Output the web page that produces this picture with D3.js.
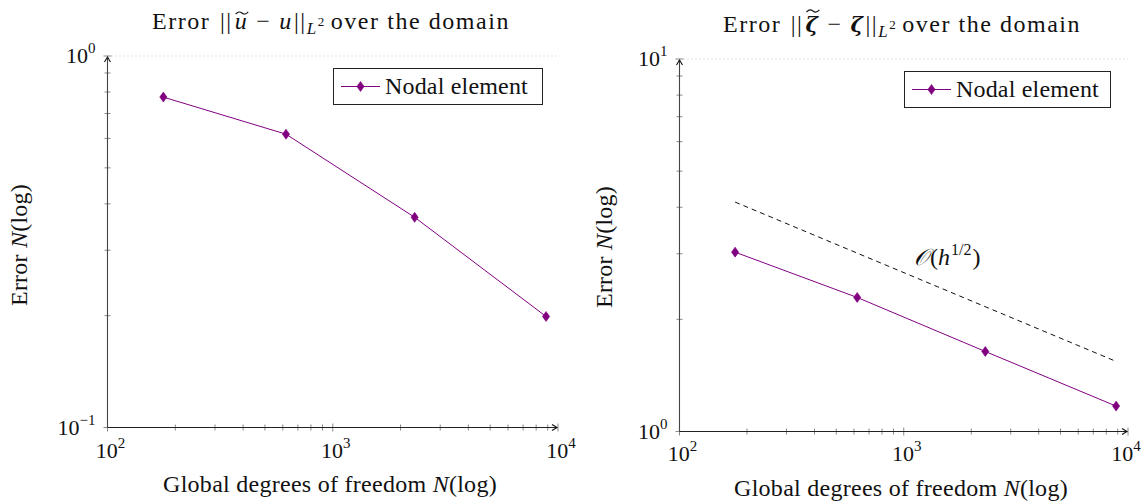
<!DOCTYPE html>
<html>
<head>
<meta charset="utf-8">
<script src="https://cdn.jsdelivr.net/npm/d3@7/dist/d3.min.js"></script>
<style>
  html, body { margin: 0; padding: 0; background: #fff; }
  svg { display: block; }
  text { font-family: "Liberation Serif", "DejaVu Serif", serif; fill: #111; }
</style>
</head>
<body>
<svg id="chart" width="1145" height="501"></svg>
<script>
// ---------------- data ----------------
const dofs = [177, 620, 2310, 8850];                 // global degrees of freedom N
const errorU = [0.775, 0.616, 0.368, 0.199];         // ||u~ - u||_L2
const errorZeta = [3.03, 2.29, 1.64, 1.17];          // ||zeta~ - zeta||_L2
const refDofs = [177, 8900];                          // O(h^{1/2}) reference line
const refZeta = [4.13, 1.54];
const seriesName = "Nodal element";
const xTickExponents = [2, 3, 4];
const leftYExponents = [-1, 0];
const rightYExponents = [0, 1];

const purple = "#800080";
const svg = d3.select("#chart");

function addPow(sel, base, exp) {
  sel.append("tspan").text(base);
  sel.append("tspan").attr("dy", -10).attr("font-size", "15px").text(exp);
}

// spread a text to a given width with letter-spacing (TeX fonts are wider)
function fit(sel, target) {
  const node = sel.node();
  sel.attr("letter-spacing", 0);
  const w = node.getComputedTextLength();
  const n = node.textContent.length;
  const ls = Math.max(-0.8, (target - w) / Math.max(1, n));
  sel.attr("letter-spacing", ls.toFixed(2) + "px");
}

// wide tilde accent over a character of a text element
function accent(g, textSel, idx, lift) {
  const node = textSel.node();
  const ext = node.getExtentOfChar(idx);
  const p = node.getStartPositionOfChar(idx);
  const a = ext.x + 1, w = Math.max(11, ext.width - 1), b = p.y - lift;
  g.append("path")
    .attr("d", `M${a},${b + 1.2} Q${a + w / 4},${b - 2.6} ${a + w / 2},${b} Q${a + 3 * w / 4},${b + 2.6} ${a + w},${b - 1.2}`)
    .attr("fill", "none").attr("stroke", "#111").attr("stroke-width", 1.1);
}

function drawPanel(cfg) {
  const g = svg.append("g");
  const x = d3.scaleLog().domain(cfg.xDomain).range([cfg.x0, cfg.x1]);
  const y = d3.scaleLog().domain(cfg.yDomain).range([cfg.y1, cfg.y0]);

  // dotted major y grid
  cfg.yExps.forEach(e => {
    g.append("line")
      .attr("x1", cfg.x0).attr("x2", cfg.x1)
      .attr("y1", y(Math.pow(10, e))).attr("y2", y(Math.pow(10, e)))
      .attr("stroke", "#c8c8c8").attr("stroke-width", 1)
      .attr("stroke-dasharray", "1,3");
  });

  // ticks (major + minor), crossing axis
  x.ticks().forEach(t => {
    const major = Math.abs(Math.log10(t) - Math.round(Math.log10(t))) < 1e-9;
    const len = major ? 4 : 3;
    g.append("line")
      .attr("x1", x(t)).attr("x2", x(t))
      .attr("y1", cfg.y1 - len).attr("y2", cfg.y1 + len)
      .attr("stroke", "#8a8a8a").attr("stroke-width", 1);
  });
  y.ticks().forEach(t => {
    const major = Math.abs(Math.log10(t) - Math.round(Math.log10(t))) < 1e-9;
    const len = major ? 4 : 3;
    g.append("line")
      .attr("y1", y(t)).attr("y2", y(t))
      .attr("x1", cfg.x0 - len).attr("x2", cfg.x0 + len)
      .attr("stroke", "#8a8a8a").attr("stroke-width", 1);
  });

  // axis lines with arrows
  g.append("line").attr("x1", cfg.x0).attr("x2", cfg.x1 - 1)
    .attr("y1", cfg.y1).attr("y2", cfg.y1)
    .attr("stroke", "#222").attr("stroke-width", 1.1);
  g.append("line").attr("x1", cfg.x0).attr("x2", cfg.x0)
    .attr("y1", cfg.y1).attr("y2", cfg.y0 + 1)
    .attr("stroke", "#444").attr("stroke-width", 1.1);
  g.append("path")
    .attr("d", `M${cfg.x1 - 6},${cfg.y1 - 3} L${cfg.x1 - 1},${cfg.y1} L${cfg.x1 - 6},${cfg.y1 + 3}`)
    .attr("fill", "none").attr("stroke", "#111").attr("stroke-width", 1.1);
  g.append("path")
    .attr("d", `M${cfg.x0 - 3},${cfg.y0 + 6} L${cfg.x0},${cfg.y0 + 1} L${cfg.x0 + 3},${cfg.y0 + 6}`)
    .attr("fill", "none").attr("stroke", "#111").attr("stroke-width", 1.1);

  // x tick labels
  xTickExponents.forEach((e, i) => {
    const last = i === xTickExponents.length - 1;
    const t = g.append("text")
      .attr("x", x(Math.pow(10, e)) + (last ? cfg.lastTickShift : 3)).attr("y", cfg.xLabelY)
      .attr("text-anchor", "middle").attr("font-size", "22px");
    addPow(t, "10", String(e));
  });
  // y tick labels
  cfg.yExps.forEach(e => {
    const t = g.append("text")
      .attr("x", cfg.x0 - 12).attr("y", y(Math.pow(10, e)) + 7)
      .attr("text-anchor", "end").attr("font-size", "22px");
    addPow(t, "10", e < 0 ? "\u2212" + Math.abs(e) : String(e));
  });

  // axis titles
  const xt = g.append("text")
    .attr("x", cfg.xTitleX).attr("y", cfg.xTitleY)
    .attr("text-anchor", "middle").attr("font-size", "24px");
  xt.append("tspan").text("Global degrees of freedom ");
  xt.append("tspan").attr("font-style", "italic").text("N");
  xt.append("tspan").text("(log)");
  fit(xt, 334);

  const yt = g.append("text")
    .attr("transform", `translate(${cfg.yTitleX},${cfg.yTitleY}) rotate(-90)`)
    .attr("text-anchor", "middle").attr("font-size", "24px");
  yt.append("tspan").text("Error ");
  yt.append("tspan").attr("font-style", "italic").text("N");
  yt.append("tspan").text("(log)");
  fit(yt, 122);

  // title
  const tt = g.append("text")
    .attr("x", cfg.titleX).attr("y", cfg.titleY)
    .attr("text-anchor", "middle").attr("font-size", "24px");
  const accIdx = cfg.title(tt);
  fit(tt, 332);
  accent(g, tt, accIdx, cfg.accentLift);

  // reference line
  if (cfg.ref) {
    const rl = d3.line().x(d => x(d[0])).y(d => y(d[1]));
    g.append("path")
      .attr("d", rl(d3.zip(cfg.ref[0], cfg.ref[1])))
      .attr("fill", "none").attr("stroke", "#111").attr("stroke-width", 1)
      .attr("stroke-dasharray", "5,4");
    const lab = g.append("text")
      .attr("x", cfg.refLabel[0]).attr("y", cfg.refLabel[1])
      .attr("font-size", "24px");
    lab.append("tspan").attr("font-style", "italic").attr("font-family", "DejaVu Serif").attr("font-size", "23px").text("\u{1D4AA}");
    lab.append("tspan").attr("dx", 2).text("(");
    lab.append("tspan").attr("font-style", "italic").text("h");
    lab.append("tspan").attr("dy", -10).attr("dx", 1).attr("font-size", "16px").text("1/2");
    lab.append("tspan").attr("dy", 10).attr("dx", 1).text(")");
  }

  // series
  const pts = d3.zip(dofs, cfg.values);
  const line = d3.line().x(d => x(d[0])).y(d => y(d[1]));
  g.append("path").attr("d", line(pts))
    .attr("fill", "none").attr("stroke", purple).attr("stroke-width", 1);
  const diamond = "M0,-5 L3.6,0 L0,5 L-3.6,0 Z";
  g.selectAll(".mk").data(pts).enter().append("path")
    .attr("d", diamond)
    .attr("transform", d => `translate(${x(d[0])},${y(d[1])})`)
    .attr("fill", purple).attr("stroke", purple).attr("stroke-width", 0.6);

  // legend
  const L = cfg.legend;
  g.append("rect").attr("x", L.x + 0.5).attr("y", L.y + 0.5)
    .attr("width", L.w).attr("height", L.h)
    .attr("fill", "#fff").attr("stroke", "#222").attr("stroke-width", 1);
  const ly = L.y + L.h / 2 + 0.5;
  g.append("line").attr("x1", L.x + 8).attr("x2", L.x + 47)
    .attr("y1", ly).attr("y2", ly).attr("stroke", purple).attr("stroke-width", 1);
  g.append("path").attr("d", diamond)
    .attr("transform", `translate(${L.x + 27.5},${ly})`)
    .attr("fill", purple).attr("stroke", purple).attr("stroke-width", 0.6);
  const lt = g.append("text").attr("x", L.x + 52).attr("y", ly + 7.5)
    .attr("font-size", "24px").text(seriesName);
  fit(lt, 143);
}

function titleU(t) {
  t.append("tspan").text("Error ");
  t.append("tspan").attr("dx", 2).text("||");
  t.append("tspan").attr("dx", 2).attr("font-style", "italic").text("u");
  t.append("tspan").attr("dx", 8).text("\u2212");
  t.append("tspan").attr("dx", 8).attr("font-style", "italic").text("u");
  t.append("tspan").attr("dx", 1).text("||");
  t.append("tspan").attr("font-style", "italic").attr("dy", 5).attr("font-size", "17px").text("L");
  t.append("tspan").attr("dy", -8).attr("font-size", "13px").text("2");
  t.append("tspan").attr("dy", 3).attr("dx", 5).text("over the domain");
  return 8;
}
function titleZeta(t) {
  t.append("tspan").text("Error ");
  t.append("tspan").attr("dx", 2).text("||");
  t.append("tspan").attr("dx", 2).attr("font-family", "DejaVu Serif").attr("font-style", "italic")
    .attr("font-weight", "bold").attr("font-size", "21px").text("\u03B6");
  t.append("tspan").attr("dx", 8).text("\u2212");
  t.append("tspan").attr("dx", 8).attr("font-family", "DejaVu Serif").attr("font-style", "italic")
    .attr("font-weight", "bold").attr("font-size", "21px").text("\u03B6");
  t.append("tspan").attr("dx", 1).text("||");
  t.append("tspan").attr("font-style", "italic").attr("dy", 5).attr("font-size", "17px").text("L");
  t.append("tspan").attr("dy", -8).attr("font-size", "13px").text("2");
  t.append("tspan").attr("dy", 3).attr("dx", 5).text("over the domain");
  return 8;
}

drawPanel({
  x0: 107.5, x1: 558, y0: 56, y1: 427.5,
  xDomain: [100, 10000], yDomain: [0.1, 1],
  yExps: leftYExponents, values: errorU,
  xLabelY: 458, xTitleX: 330, xTitleY: 492, yTitleX: 27, yTitleY: 245,
  titleX: 331, titleY: 29, accentLift: 16, lastTickShift: 3,
  legend: { x: 333, y: 68, w: 209, h: 36 },
  title: titleU
});

drawPanel({
  x0: 679.5, x1: 1128, y0: 59, y1: 431.5,
  xDomain: [100, 10000], yDomain: [1, 10],
  yExps: rightYExponents, values: errorZeta,
  ref: [refDofs, refZeta], refLabel: [914, 265],
  xLabelY: 461, xTitleX: 901, xTitleY: 496, yTitleX: 612, yTitleY: 247,
  titleX: 902, titleY: 32, accentLift: 21, lastTickShift: -2,
  legend: { x: 904, y: 71, w: 206, h: 36 },
  title: titleZeta
});
</script>
</body>
</html>
